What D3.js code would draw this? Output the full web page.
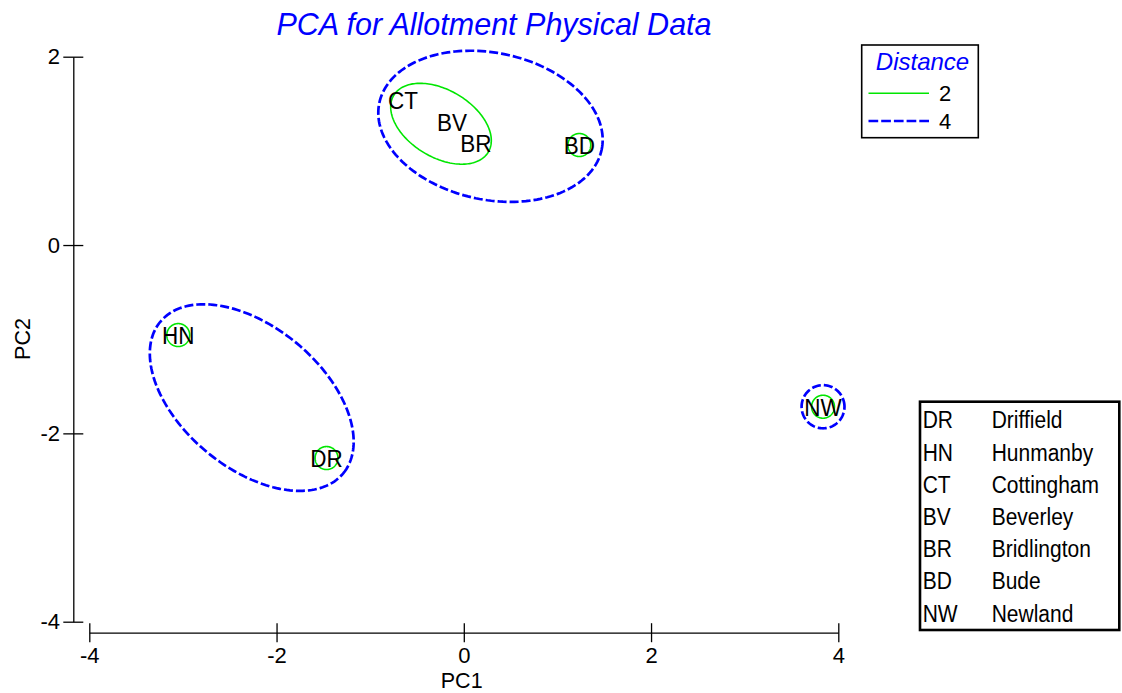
<!DOCTYPE html>
<html>
<head>
<meta charset="utf-8">
<script src="https://cdn.jsdelivr.net/npm/d3@7"></script>
<style>
  html, body { margin: 0; padding: 0; background: #fff; }
  svg { display: block; font-family: Arial, "Liberation Sans", sans-serif; }
</style>
</head>
<body>
<svg id="chart" width="1122" height="693"></svg>
<script>
// PCA scores for each allotment site
const siteCodes = ["DR", "HN", "CT", "BV", "BR", "BD", "NW"];
const siteNames = ["Driffield", "Hunmanby", "Cottingham", "Beverley", "Bridlington", "Bude", "Newland"];
const pc1 = [-1.466, -3.05, -0.65, -0.126, 0.13, 1.234, 3.837];
const pc2 = [-2.262, -0.956, 1.54, 1.306, 1.083, 1.062, -1.717];

// Cluster contours at two resemblance levels: centre, semi-axes (PC units), rotation (deg)
const contourLevel = [2, 2, 2, 2, 2, 4, 4, 4];
const contourCx    = [-0.2435, 1.234, -3.05, -1.466, 3.837, 0.285, -2.265, 3.837];
const contourCy    = [1.288, 1.062, -0.956, -2.262, -1.717, 1.261, -1.62, -1.717];
const contourRx    = [0.588, 0.122, 0.122, 0.122, 0.122, 1.213, 1.266, 0.229];
const contourRy    = [0.357, 0.122, 0.122, 0.122, 0.122, 0.78, 0.751, 0.229];
const contourRot   = [-30.7, 0, 0, 0, 0, -11.7, -39.35, 0];

const xTicks = [-4, -2, 0, 2, 4];
const yTicks = [-4, -2, 0, 2];
const legendLevels = [2, 4];

const GREEN = "#00e600";
const BLUE = "#0000ff";
const FONT = 'Arial, "Liberation Sans", sans-serif';
const STRETCH = 1.1; // glyphs are drawn slightly taller than wide

const svg = d3.select("#chart");

const x = d3.scaleLinear().domain([-4, 4]).range([89.3, 838.3]);
const y = d3.scaleLinear().domain([-4, 2]).range([621.7, 56.7]);
const tickFmt = d => String(d);

// Title
svg.append("text")
  .attr("x", 494).attr("y", 35)
  .attr("text-anchor", "middle")
  .attr("font-size", 30.5).attr("font-style", "italic")
  .attr("fill", BLUE)
  .text("PCA for Allotment Physical Data");

// Axes: ticks cross the axis line on both sides
const yAxisG = svg.append("g")
  .attr("transform", "translate(73.3,0)")
  .call(d3.axisLeft(y).tickValues(yTicks).tickFormat(tickFmt)
    .tickSizeInner(10).tickSizeOuter(0).tickPadding(3.3));
yAxisG.selectAll(".tick line").attr("x1", 10);

const xAxisG = svg.append("g")
  .attr("transform", "translate(0,632.7)")
  .call(d3.axisBottom(x).tickValues(xTicks).tickFormat(tickFmt)
    .tickSizeInner(9.5).tickSizeOuter(0).tickPadding(5));
xAxisG.selectAll(".tick line").attr("y1", -9.5);

[yAxisG, xAxisG].forEach(g => g.attr("font-family", FONT).attr("font-size", 22));
svg.selectAll(".domain, .tick line").attr("stroke", "#000").attr("stroke-width", 1.3);
svg.selectAll(".tick text").attr("fill", "#000");

// Axis titles
svg.append("text")
  .attr("x", 461.7).attr("y", 688)
  .attr("text-anchor", "middle").attr("font-size", 21.5)
  .text("PC1");
svg.append("text")
  .attr("transform", "translate(30,339) rotate(-90)")
  .attr("text-anchor", "middle").attr("font-size", 21.5)
  .text("PC2");

// Contours drawn as rotated ellipses in PC space
function ellipsePoints(i) {
  const phi = contourRot[i] * Math.PI / 180;
  const pts = [];
  for (let k = 0; k < 180; k++) {
    const t = (k / 180) * 2 * Math.PI;
    const u = contourRx[i] * Math.cos(t);
    const v = contourRy[i] * Math.sin(t);
    pts.push([
      x(contourCx[i] + u * Math.cos(phi) - v * Math.sin(phi)),
      y(contourCy[i] + u * Math.sin(phi) + v * Math.cos(phi))
    ]);
  }
  return pts;
}
const line = d3.line().curve(d3.curveLinearClosed);
const contours = d3.range(contourLevel.length);

svg.append("g").selectAll("path")
  .data(contours)
  .join("path")
  .attr("d", i => line(ellipsePoints(i)))
  .attr("fill", "none")
  .attr("stroke", i => contourLevel[i] === 2 ? GREEN : BLUE)
  .attr("stroke-width", i => contourLevel[i] === 2 ? 1.6 : 2.7)
  .attr("stroke-dasharray", i => contourLevel[i] === 2 ? null : "9,3");

// Site labels centred on their scores
svg.append("g").selectAll("text")
  .data(d3.range(siteCodes.length))
  .join("text")
  .attr("transform", i => `translate(${x(pc1[i])},${y(pc2[i])}) scale(1,${STRETCH})`)
  .attr("dy", "0.36em")
  .attr("text-anchor", "middle")
  .attr("font-size", 22.5)
  .attr("fill", "#000")
  .text(i => siteCodes[i]);

// Contour legend
const lg = svg.append("g");
lg.append("rect")
  .attr("x", 861.7).attr("y", 45).attr("width", 116.6).attr("height", 92.7)
  .attr("fill", "#fff").attr("stroke", "#000").attr("stroke-width", 1.6);
lg.append("text")
  .attr("x", 922.5).attr("y", 70)
  .attr("text-anchor", "middle")
  .attr("font-size", 24).attr("font-style", "italic").attr("fill", BLUE)
  .text("Distance");
legendLevels.forEach((lev, j) => {
  const ly = 93.3 + j * 27.7;
  lg.append("line")
    .attr("x1", 868.5).attr("x2", 929).attr("y1", ly).attr("y2", ly)
    .attr("stroke", lev === 2 ? GREEN : BLUE)
    .attr("stroke-width", lev === 2 ? 1.6 : 2.7)
    .attr("stroke-dasharray", lev === 2 ? null : "9.7,3");
  lg.append("text")
    .attr("x", 945).attr("y", ly + 8)
    .attr("text-anchor", "middle")
    .attr("font-size", 22).attr("fill", "#000")
    .text(lev);
});

// Site key
const key = svg.append("g");
key.append("rect")
  .attr("x", 920).attr("y", 401.7).attr("width", 199.3).attr("height", 228.3)
  .attr("fill", "#fff").attr("stroke", "#000").attr("stroke-width", 2.6);
siteCodes.forEach((code, i) => {
  const by = 428.3 + i * 32.2;
  key.append("text").attr("transform", `translate(922.7,${by}) scale(1,${STRETCH})`)
    .attr("font-size", 21).attr("fill", "#000").text(code);
  key.append("text").attr("transform", `translate(991.7,${by}) scale(1,${STRETCH})`)
    .attr("font-size", 21).attr("fill", "#000").text(siteNames[i]);
});
</script>
</body>
</html>
